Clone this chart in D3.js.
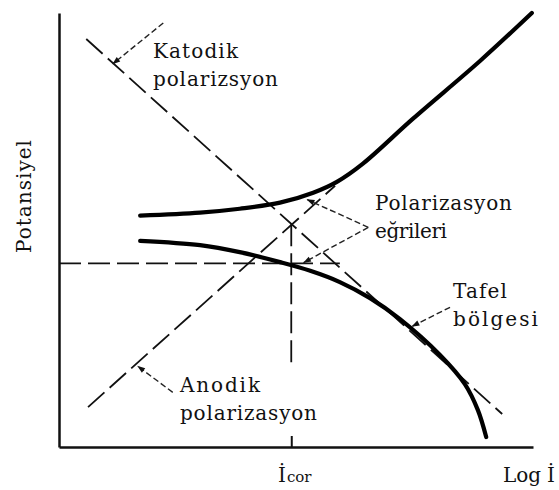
<!DOCTYPE html>
<html>
<head>
<meta charset="utf-8">
<script src="https://cdn.jsdelivr.net/npm/d3@7"></script>
<style>
  html, body { margin: 0; padding: 0; background: #fff; }
  svg { display: block; }
  svg text { font-family: "DejaVu Serif", "Liberation Serif", "Times New Roman", Tinos, serif; }
</style>
</head>
<body>
<svg id="chart" width="559" height="490"></svg>
<script>
// Polarization diagram: log current density (decades) vs. potential (V)

// Anodic / cathodic polarization curves
const anodicCurveLogI = [-6.63, -5.62, -4.95, -4.27, -3.71, -3.31, -2.87, -2.03, -0.89, -0.02];
const anodicCurveE    = [-0.267, -0.260, -0.251, -0.237, -0.214, -0.189, -0.147, -0.044, 0.090, 0.200];
const cathodicCurveLogI = [-6.63, -5.62, -4.95, -4.27, -3.76, -3.26, -2.75, -2.25, -1.57, -1.15, -0.93, -0.79];
const cathodicCurveE    = [-0.325, -0.335, -0.351, -0.374, -0.394, -0.420, -0.457, -0.505, -0.588, -0.655, -0.715, -0.777];

// Tafel extrapolation lines (start, end)
const cathodicTafelLogI = [-7.54, -0.52];
const cathodicTafelE    = [0.140, -0.724];
const anodicTafelLogI   = [-7.51, -3.34];
const anodicTafelE      = [-0.708, -0.198];

// Corrosion potential / current markers
const eCorr = -0.377;
const eCorrEndLogI = -3.26;
const logICorr = -4.08;
const iCorrLineE = [-0.287, -0.621];

// Annotation leader arrows: [fromLogI, fromE, toLogI, toE]
const leaders = [
  [-6.24, 0.177, -7.09, 0.083],   // Katodik polarizsyon
  [-6.08, -0.674, -6.67, -0.614], // Anodik polarizasyon
  [-2.78, -0.294, -3.81, -0.230], // Polarizasyon eğrileri (upper)
  [-2.78, -0.294, -3.87, -0.375], // Polarizasyon eğrileri (lower)
  [-1.40, -0.478, -2.04, -0.522]  // Tafel bölgesi
];

// Annotation text lines
const annotations = [
  {lines: ["Katodik", "polarizsyon"], x: 153, y: 58, w: [85, 125]},
  {lines: ["Anodik", "polarizasyon"], x: 180, y: 392, w: [80, 137]},
  {lines: ["Polarizasyon", "eğrileri"], x: 375, y: 210, w: [137, 72]},
  {lines: ["Tafel", "bölgesi"], x: 453, y: 298, w: [54, 85]}
];
const yTitle = "Potansiyel";
const xTitle = "Log İ";
const corrLabel = ["İ", "cor"];

const svg = d3.select("#chart");
const x = d3.scaleLinear().domain([-8, 0]).range([59, 533]);
const y = d3.scaleLinear().domain([-0.8, 0.2]).range([447, 13]);

// arrowhead marker
svg.append("defs").append("marker")
  .attr("id", "arrow")
  .attr("viewBox", "0 0 10 10")
  .attr("refX", 9).attr("refY", 5)
  .attr("markerWidth", 9).attr("markerHeight", 8)
  .attr("markerUnits", "userSpaceOnUse")
  .attr("orient", "auto")
  .append("path").attr("d", "M0,1.5 L10,5 L0,8.5 Z").attr("fill", "#111");

// axes
svg.append("g")
  .attr("transform", `translate(0,${y(-0.8)})`)
  .call(d3.axisBottom(x).tickValues([logICorr]).tickFormat("").tickSizeInner(-11).tickSizeOuter(0))
  .call(g => g.select(".domain").attr("stroke", "#111").attr("stroke-width", 2.5))
  .call(g => g.selectAll(".tick line").attr("stroke", "#111").attr("stroke-width", 2));
svg.append("g")
  .attr("transform", `translate(${x(-8)},0)`)
  .call(d3.axisLeft(y).tickValues([]).tickSizeOuter(0))
  .call(g => g.select(".domain").attr("stroke", "#111").attr("stroke-width", 2.5));

const line = d3.line().x(d => x(d[0])).y(d => y(d[1]));
const dashed = "22,7";

function dashedLine(pts) {
  svg.append("path")
    .attr("d", line(pts))
    .attr("fill", "none").attr("stroke", "#111").attr("stroke-width", 1.8)
    .attr("stroke-dasharray", dashed);
}

// Tafel lines
dashedLine(d3.zip(cathodicTafelLogI, cathodicTafelE));
dashedLine(d3.zip(anodicTafelLogI, anodicTafelE));

// Ecorr and Icor guides
dashedLine([[-8, eCorr], [eCorrEndLogI, eCorr]]);
dashedLine([[logICorr, iCorrLineE[0]], [logICorr, iCorrLineE[1]]]);

// polarization curves
const curve = d3.line().x(d => x(d[0])).y(d => y(d[1])).curve(d3.curveCatmullRom.alpha(0.5));
[[anodicCurveLogI, anodicCurveE], [cathodicCurveLogI, cathodicCurveE]].forEach(([lx, le]) => {
  svg.append("path")
    .attr("d", curve(d3.zip(lx, le)))
    .attr("fill", "none").attr("stroke", "#000").attr("stroke-width", 4.2)
    .attr("stroke-linecap", "round");
});

// leader arrows
svg.selectAll(".leader").data(leaders).join("line")
  .attr("class", "leader")
  .attr("x1", d => x(d[0])).attr("y1", d => y(d[1]))
  .attr("x2", d => x(d[2])).attr("y2", d => y(d[3]))
  .attr("stroke", "#222").attr("stroke-width", 1.4)
  .attr("stroke-dasharray", "6,3")
  .attr("marker-end", "url(#arrow)");

// annotation text
annotations.forEach(a => {
  a.lines.forEach((t, i) => {
    svg.append("text")
      .attr("x", a.x).attr("y", a.y + i * 27.5)
      .attr("font-size", 20).attr("fill", "#111")
      .attr("textLength", a.w[i]).attr("lengthAdjust", "spacing")
      .text(t);
  });
});

// axis titles
svg.append("text")
  .attr("transform", "translate(31,253) rotate(-90)")
  .attr("font-size", 20).attr("fill", "#111")
  .attr("textLength", 113).attr("lengthAdjust", "spacing")
  .text(yTitle);
svg.append("text")
  .attr("x", 503).attr("y", 482)
  .attr("font-size", 20).attr("fill", "#111")
  .attr("textLength", 52).attr("lengthAdjust", "spacing")
  .text(xTitle);
const ic = svg.append("text").attr("x", 278).attr("y", 482)
  .attr("font-size", 20).attr("fill", "#111");
ic.append("tspan").text(corrLabel[0]);
ic.append("tspan").attr("font-size", 15).attr("dx", 1).text(corrLabel[1]);
</script>
</body>
</html>
